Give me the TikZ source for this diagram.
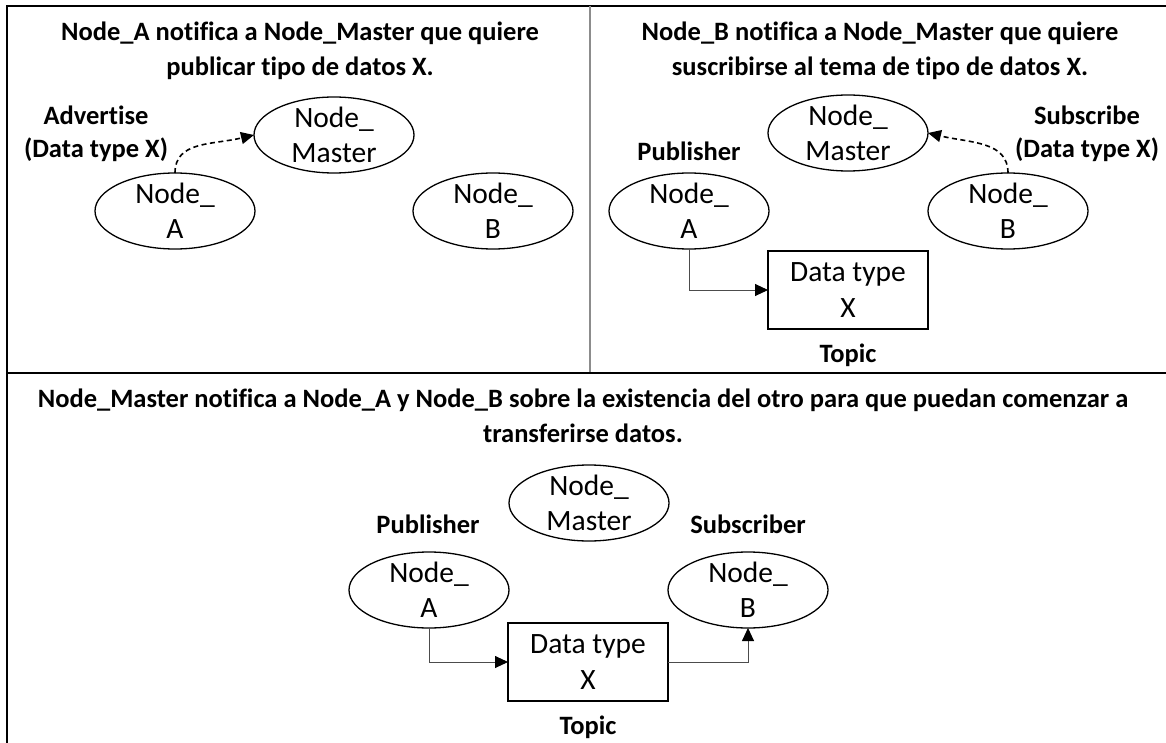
\documentclass[tikz,border=0pt]{standalone}
\usepackage{fontspec}
\setmainfont{Carlito}[Ligatures=NoCommon]
\usetikzlibrary{arrows.meta,shapes.geometric}

\tikzset{
  frameline/.style={line width=2pt,black},
  dividerline/.style={line width=1.3pt,black!45},
  nodeell/.style={draw,ellipse,line width=1.3pt,minimum width=160pt,minimum height=76pt,inner sep=0pt,outer sep=0pt},
  topicbox/.style={draw,rectangle,line width=1.3pt,minimum width=160pt,minimum height=78pt,inner sep=0pt,outer sep=0pt},
  shapetext/.style={align=center,inner sep=0pt,font=\fontsize{29.5}{35.5}\selectfont},
  tagtext/.style={align=center,inner sep=0pt,font=\bfseries\fontsize{26.5}{33}\selectfont},
  titletext/.style={align=center,inner sep=0pt,font=\bfseries\fontsize{26.5}{35}\selectfont},
  flow/.style={line width=0.9pt,black!70,-{Triangle[length=13pt,width=12pt,color=black]}},
  notify/.style={line width=1.6pt,black,dash pattern=on 5pt off 3.5pt,-{Triangle[length=13pt,width=12pt]}}
}

\begin{document}
\begin{tikzpicture}[x=1pt,y=-1pt]
  % canvas
  \path[fill=white,use as bounding box] (0,0) rectangle (1166,743);

  % panel frame
  \draw[frameline] (7,743) -- (7,6) -- (1166,6);
  \draw[frameline] (7,373) -- (1166,373);
  \draw[dividerline] (590,6) -- (590,372);

  % ---------- panel 1: advertise ----------
  \node[titletext] (title1) at (300,51) {Node\_A notifica a Node\_Master que quiere\\publicar tipo de datos X.};
  \node[nodeell] (M1) at (334,135) {};
  \node[shapetext] (tM1) at (M1) {Node\_\\Master};
  \node[nodeell] (A1) at (175,211) {};
  \node[shapetext] (tA1) at (A1) {Node\_\\A};
  \node[nodeell] (B1) at (493,211) {};
  \node[shapetext] (tB1) at (B1) {Node\_\\B};
  \node[tagtext] (adv) at (96,134) {Advertise\\(Data type X)};
  \draw[notify] (A1.north) .. controls +(0,-32) and +(-42,10) .. (M1.west);

  % ---------- panel 2: subscribe ----------
  \node[titletext] (title2) at (880,51) {Node\_B notifica a Node\_Master que quiere\\suscribirse al tema de tipo de datos X.};
  \node[nodeell] (M2) at (848,133) {};
  \node[shapetext] (tM2) at (M2) {Node\_\\Master};
  \node[nodeell] (A2) at (689,211) {};
  \node[shapetext] (tA2) at (A2) {Node\_\\A};
  \node[nodeell] (B2) at (1008,211) {};
  \node[shapetext] (tB2) at (B2) {Node\_\\B};
  \node[topicbox] (T2) at (848,290) {};
  \node[shapetext] (tT2) at (T2) {Data type\\X};
  \node[tagtext] (pub2) at (689,151) {Publisher};
  \node[tagtext] (sub2) at (1087,134) {Subscribe\\(Data type X)};
  \node[tagtext] (topic2) at (848,355) {Topic};
  \draw[flow] (A2.south) |- (T2.west);
  \draw[notify] (B2.north) .. controls +(0,-32) and +(42,10) .. (M2.east);

  % ---------- panel 3: connection ----------
  \node[titletext] (title3) at (583,416) {Node\_Master notifica a Node\_A y Node\_B sobre la existencia del otro para que puedan comenzar a\\transferirse datos.};
  \node[nodeell] (M3) at (589,503) {};
  \node[shapetext] (tM3) at (M3) {Node\_\\Master};
  \node[nodeell] (A3) at (429,590) {};
  \node[shapetext] (tA3) at (A3) {Node\_\\A};
  \node[nodeell] (B3) at (748,590) {};
  \node[shapetext] (tB3) at (B3) {Node\_\\B};
  \node[topicbox] (T3) at (588,662) {};
  \node[shapetext] (tT3) at (T3) {Data type\\X};
  \node[tagtext] (pub3) at (428,524) {Publisher};
  \node[tagtext] (sub3) at (748,524) {Subscriber};
  \node[tagtext] (topic3) at (588,727) {Topic};
  \draw[flow] (A3.south) |- (T3.west);
  \draw[flow] (T3.east) -| (B3.south);
\end{tikzpicture}
\end{document}
